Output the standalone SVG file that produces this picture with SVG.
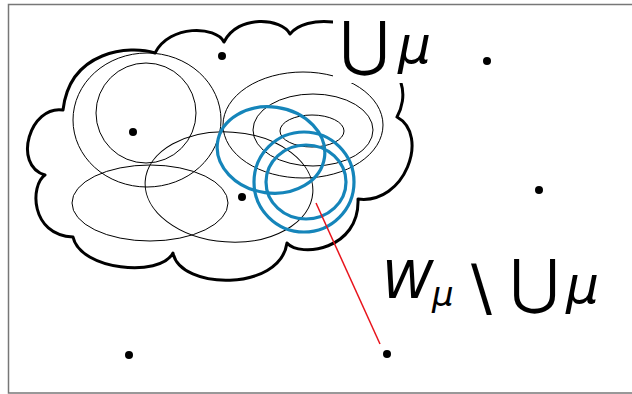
<svg xmlns="http://www.w3.org/2000/svg" width="632" height="394" viewBox="0 0 632 394">
<style>
.thin{fill:none;stroke:#000;stroke-width:1}
.blue{fill:none;stroke:#1585ba;stroke-width:3.2}
.cloud{fill:none;stroke:#000;stroke-width:3;stroke-linejoin:round;stroke-linecap:round}
.dot{fill:#000}
.t{font-family:"DejaVu Sans","Liberation Sans",sans-serif;fill:#000}
.it{font-style:italic}
</style>
<rect width="632" height="394" fill="#fff"/>
<rect x="8.5" y="4.5" width="640" height="388.5" fill="none" stroke="#777" stroke-width="1.5"/>
<g id="cloud">
<path class="cloud" d="M333 22 C315 20,298 24,290 34 C282 18,238 14,224 42 C216 26,170 24,155 53 C130 45,70 50,63 110 C30 105,12 165,45 175 C30 185,30 235,73 237 C80 270,160 278,173 253 C180 290,280 292,287 243 C300 258,360 250,358 199 C405 205,430 135,397 117 C402 108,405 95,401 83"/>
</g>
<g id="ellipses">
<ellipse class="thin" cx="146" cy="113" rx="50" ry="50"/>
<ellipse class="thin" cx="147" cy="120" rx="74" ry="67"/>
<ellipse class="thin" cx="150" cy="203" rx="78" ry="38"/>
<ellipse class="thin" cx="229" cy="187" rx="84" ry="55" transform="rotate(4 229 187)"/>
<ellipse class="thin" cx="303" cy="125" rx="80" ry="53"/>
<ellipse class="thin" cx="313" cy="130" rx="60" ry="36"/>
<ellipse class="thin" cx="312" cy="131" rx="32" ry="16"/>
</g>
<g id="blue-circles">
<ellipse class="blue" cx="271" cy="150" rx="54" ry="43" transform="rotate(8 271 150)"/>
<ellipse class="blue" cx="304" cy="182" rx="50" ry="50"/>
<ellipse class="blue" cx="306" cy="182" rx="40" ry="37"/>
</g>
<rect x="333" y="6" width="100" height="77" fill="#fff"/>
<g id="connectors">
<line x1="316" y1="203" x2="380" y2="344" stroke="#e8141c" stroke-width="1.5"/>
</g>
<g id="points">
<circle class="dot" cx="222" cy="56" r="4"/>
<circle class="dot" cx="487" cy="61" r="4"/>
<circle class="dot" cx="133" cy="132" r="4"/>
<circle class="dot" cx="242" cy="197" r="4"/>
<circle class="dot" cx="539" cy="190" r="4"/>
<circle class="dot" cx="129" cy="355" r="4"/>
<circle class="dot" cx="387" cy="354" r="4"/>
</g>
<g id="label-union">
<text class="t" x="340" y="64" font-size="60">⋃</text>
<text class="t it" x="398" y="63" font-size="52">μ</text>
</g>
<g id="label-w">
<text class="t it" x="382" y="298" font-size="51">W</text>
<text class="t it" x="432" y="306" font-size="34">μ</text>
<text class="t" x="471" y="309" font-size="62">\</text>
<text class="t" x="510" y="302" font-size="60">⋃</text>
<text class="t it" x="566" y="303" font-size="52">μ</text>
</g>
</svg>
